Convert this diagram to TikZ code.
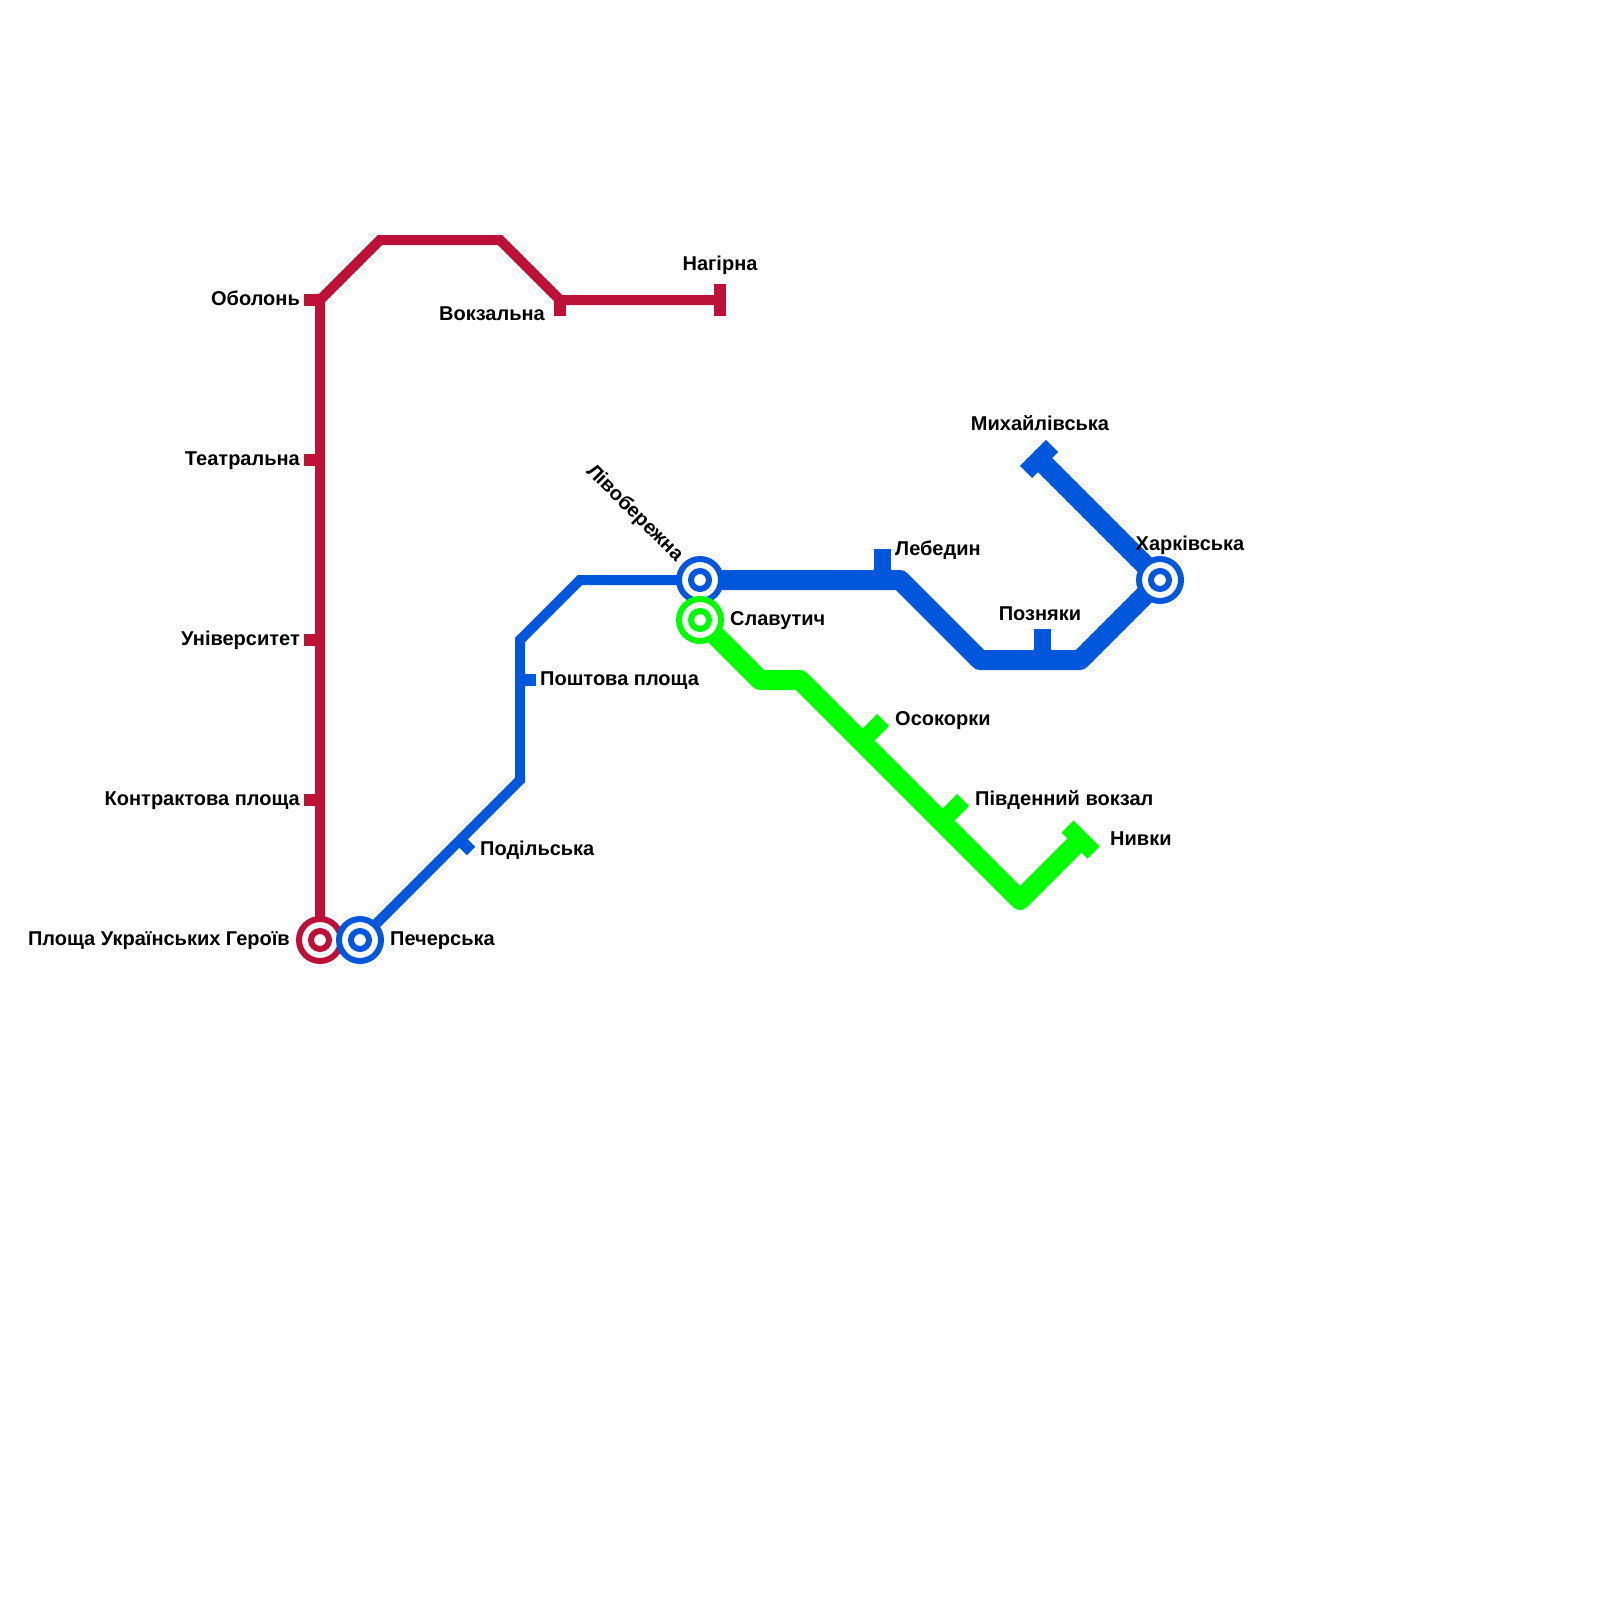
\documentclass[tikz,border=0pt]{standalone}
\usepackage{fontspec}
\setmainfont{Liberation Sans}
\definecolor{mred}{HTML}{BD1038}
\definecolor{mblue}{HTML}{0057DB}
\definecolor{mgreen}{HTML}{00FF00}
\tikzset{
  thin line/.style={line join=miter,line cap=butt,line width=10pt},
  thick line/.style={line join=round,line cap=butt,line width=20pt},
  stub/.style={line width=12pt,line cap=butt},
  bigstub/.style={line width=17pt,line cap=butt},
  lab/.style={font=\fontsize{20pt}{22pt}\selectfont\bfseries,inner sep=0pt,text=black},
  ringo/.style={circle,minimum size=42pt,inner sep=0pt,line width=6pt,fill=white,draw=#1},
  ringi/.style={circle,minimum size=18pt,inner sep=0pt,line width=6pt,fill=white,draw=#1},
}
\begin{document}
\begin{tikzpicture}[x=1pt,y=-1pt]
\useasboundingbox (0,0) rectangle (1600,1600);
% red
\coordinate (geroiv) at (320,940);
\coordinate (obolon) at (320,300);
\coordinate (r1) at (380,240);
\coordinate (r2) at (500,240);
\coordinate (vokz) at (560,300);
\coordinate (nahirna) at (720,300);
\draw[thin line,mred] (geroiv) -- (obolon) -- (r1) -- (r2) -- (vokz) -- (nahirna);
\coordinate (teatr) at (320,460);
\coordinate (univ) at (320,640);
\coordinate (kontr) at (320,800);
\foreach \c/\n in {obolon/a,teatr/b,univ/c,kontr/d}{
  \coordinate (s\n) at ([xshift=-16pt]\c);
  \draw[stub,mred] (s\n) -- (\c);
}
\coordinate (vs) at (560,316);
\draw[stub,mred] (vokz) -- (vs);
\coordinate (na) at (720,284);
\coordinate (nb) at (720,316);
\draw[stub,mred] (na) -- (nb);
% blue thin
\coordinate (pech) at (360,940);
\coordinate (b1) at (520,780);
\coordinate (b2) at (520,640);
\coordinate (b3) at (580,580);
\coordinate (livo) at (700,580);
\draw[thin line,mblue] (pech) -- (b1) -- (b2) -- (b3) -- (livo);
\coordinate (posht) at (520,680);
\coordinate (posht2) at (536,680);
\draw[stub,mblue] (posht) -- (posht2);
\coordinate (pod) at (460,840);
\coordinate (pod2) at (471,851);
\draw[stub,mblue] (pod) -- (pod2);
% blue thick
\coordinate (b4) at (900,580);
\coordinate (b5) at (980,660);
\coordinate (b6) at (1080,660);
\coordinate (khark) at (1160,580);
\coordinate (mykh) at (1039,459);
\draw[thick line,mblue] (livo) -- (b4) -- (b5) -- (b6) -- (khark) -- (mykh);
\coordinate (leb) at (882,580);
\coordinate (leb2) at (882,549);
\draw[bigstub,mblue] (leb) -- (leb2);
\coordinate (pozn) at (1042,660);
\coordinate (pozn2) at (1042,629);
\draw[bigstub,mblue] (pozn) -- (pozn2);
\coordinate (ma) at (1026,472);
\coordinate (mb) at (1052,446);
\draw[bigstub,mblue] (ma) -- (mb);
% green
\coordinate (slav) at (700,620);
\coordinate (g1) at (760,680);
\coordinate (g2) at (800,680);
\coordinate (g3) at (1020,900);
\coordinate (nyv) at (1080.5,839.5);
\draw[thick line,mgreen] (slav) -- (g1) -- (g2) -- (g3) -- (nyv);
\coordinate (os) at (861.5,741.5);
\coordinate (os2) at (883,720);
\draw[bigstub,mgreen] (os) -- (os2);
\coordinate (pv) at (941.5,821.5);
\coordinate (pv2) at (963,800);
\draw[bigstub,mgreen] (pv) -- (pv2);
\coordinate (na1) at (1067.5,826.5);
\coordinate (na2) at (1093.5,852.5);
\draw[bigstub,mgreen] (na1) -- (na2);
% interchanges
\foreach \c/\col in {geroiv/mred,pech/mblue,livo/mblue,khark/mblue,slav/mgreen}{
  \node[ringo=\col] (\c o) at (\c) {};
  \node[ringi=\col] (\c i) at (\c) {};
}
% labels
\node[lab,anchor=base east] (lobolon) at (300,305) {Оболонь};
\node[lab,anchor=base east] (lteatr) at (300,465) {Театральна};
\node[lab,anchor=base east] (luniv) at (300,645) {Університет};
\node[lab,anchor=base east] (lkontr) at (300,805) {Контрактова площа};
\node[lab,anchor=base east] (lgeroiv) at (290,945) {Площа Українських Героїв};
\node[lab,anchor=base east] (lvokz) at (545,320) {Вокзальна};
\node[lab,anchor=base] (lnah) at (720,270) {Нагірна};
\node[lab,anchor=base west] (lpech) at (390,945) {Печерська};
\node[lab,anchor=base west] (lpod) at (480,855) {Подільська};
\node[lab,anchor=base west] (lposht) at (540,685) {Поштова площа};
\node[lab,anchor=base west] (lslav) at (730,625) {Славутич};
\node[lab,anchor=base west] (lleb) at (895,555) {Лебедин};
\node[lab,anchor=base west] (los) at (895,725) {Осокорки};
\node[lab,anchor=base west] (lpv) at (975,805) {Південний вокзал};
\node[lab,anchor=base west] (lnyv) at (1110,845) {Нивки};
\node[lab,anchor=base] (lpozn) at (1040,620) {Позняки};
\node[lab,anchor=base] (lmykh) at (1040,430) {Михайлівська};
\node[lab,anchor=base] (lkhark) at (1190,550) {Харківська};
\node[lab,anchor=base east,rotate=-45] (llivo) at (676,562.5) {Лівобережна};
\end{tikzpicture}
\end{document}
